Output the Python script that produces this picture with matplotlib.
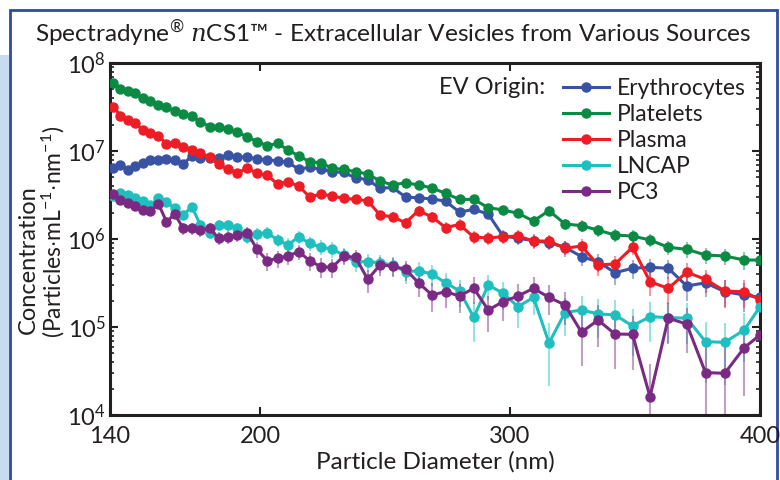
import numpy as np
import matplotlib.pyplot as plt
from matplotlib.patches import Rectangle

plt.rcParams['font.family'] = ['Lato', 'DejaVu Sans']
plt.rcParams['mathtext.fontset'] = 'custom'
plt.rcParams['mathtext.rm'] = 'Lato'
plt.rcParams['mathtext.it'] = 'DejaVu Serif:italic'

# bin centres (nm)
diameter = [141.3, 144.2, 147.1, 150.1, 153.1, 156.2, 159.4, 162.6, 165.9, 169.3,
            172.7, 176.2, 179.8, 183.5, 187.2, 191.0, 194.9, 198.8, 202.9, 207.0,
            211.2, 215.5, 219.9, 224.3, 228.9, 233.5, 238.2, 243.1, 248.0, 253.0,
            258.2, 263.4, 268.8, 274.2, 279.8, 285.5, 291.3, 297.2, 303.2, 309.4,
            315.6, 322.0, 328.6, 335.2, 342.0, 349.0, 356.0, 363.3, 370.7, 378.2,
            385.9, 393.7, 400.0]

erythrocytes = [6.36e6, 6.98e6, 6.13e6, 6.76e6, 7.25e6, 7.90e6, 7.90e6, 8.05e6, 7.90e6, 7.18e6,
                8.71e6, 8.37e6, 8.26e6, 8.37e6, 8.93e6, 8.61e6, 8.48e6, 8.17e6, 7.90e6, 7.76e6,
                7.46e6, 6.19e6, 6.53e6, 6.19e6, 5.82e6, 5.70e6, 4.96e6, 4.72e6, 3.77e6, 3.85e6,
                3.00e6, 2.94e6, 2.85e6, 2.69e6, 2.02e6, 2.17e6, 1.92e6, 1.08e6, 1.02e6, 9.57e5,
                9.08e5, 8.05e5, 6.30e5, 5.52e5, 4.14e5, 4.65e5, 4.77e5, 4.65e5, 2.92e5, 3.18e5,
                2.52e5, 2.31e5, 2.17e5]

platelets = [5.87e7, 5.07e7, 4.84e7, 4.53e7, 3.97e7, 3.73e7, 3.33e7, 3.14e7, 2.85e7, 2.61e7,
             2.50e7, 2.15e7, 1.89e7, 1.86e7, 1.77e7, 1.63e7, 1.45e7, 1.28e7, 1.15e7, 1.22e7,
             1.03e7, 8.77e6, 7.55e6, 7.36e6, 6.36e6, 6.19e6, 5.82e6, 5.48e6, 4.56e6, 4.11e6,
             4.36e6, 4.11e6, 3.80e6, 3.30e6, 2.82e6, 2.82e6, 2.27e6, 2.14e6, 1.96e6, 1.60e6,
             2.10e6, 1.48e6, 1.42e6, 1.26e6, 1.11e6, 1.08e6, 9.75e5, 8.05e5, 7.64e5, 6.58e5,
             6.41e5, 5.77e5, 5.77e5]

plasma = [3.18e7, 2.53e7, 2.23e7, 2.10e7, 1.72e7, 1.61e7, 1.50e7, 1.20e7, 1.24e7, 1.11e7,
          1.04e7, 9.42e6, 8.55e6, 7.03e6, 6.19e6, 5.66e6, 6.36e6, 5.58e6, 5.27e6, 4.22e6,
          4.45e6, 4.00e6, 3.00e6, 3.24e6, 3.08e6, 2.90e6, 2.82e6, 2.72e6, 1.87e6, 1.79e6,
          1.53e6, 2.10e6, 1.78e6, 1.35e6, 1.46e6, 1.05e6, 1.03e6, 1.06e6, 1.08e6, 9.48e5,
          9.48e5, 7.84e5, 8.32e5, 5.07e5, 5.20e5, 8.05e5, 3.27e5, 2.75e5, 4.19e5, 3.48e5,
          2.56e5, 2.52e5, 2.03e5]

lncap = [3.10e6, 3.36e6, 3.16e6, 2.90e6, 2.72e6, 2.43e6, 2.90e6, 2.65e6, 2.23e6, 1.87e6,
         2.33e6, 1.44e6, 1.18e6, 1.44e6, 1.44e6, 1.32e6, 1.06e6, 1.14e6, 1.18e6, 9.75e5,
         8.55e5, 1.06e6, 8.93e5, 8.11e5, 7.64e5, 6.58e5, 5.52e5, 5.52e5, 5.38e5, 5.07e5,
         4.25e5, 4.36e5, 4.00e5, 3.18e5, 2.58e5, 1.29e5, 3.00e5, 2.42e5, 1.70e5, 2.17e5,
         6.58e4, 1.46e5, 1.56e5, 1.41e5, 1.37e5, 1.03e5, 1.31e5, 1.28e5, 1.26e5, 6.81e4,
         6.70e4, 9.25e4, 1.70e5]

pc3 = [3.25e6, 2.77e6, 2.55e6, 2.37e6, 2.14e6, 2.10e6, 2.50e6, 1.57e6, 1.92e6, 1.32e6,
       1.32e6, 1.26e6, 1.32e6, 1.02e6, 1.06e6, 1.11e6, 1.18e6, 7.64e5, 5.66e5, 6.04e5,
       6.41e5, 7.18e5, 5.66e5, 4.84e5, 4.77e5, 6.41e5, 6.19e5, 3.48e5, 5.07e5, 4.93e5,
       4.53e5, 3.18e5, 2.31e5, 2.52e5, 2.25e5, 2.75e5, 1.56e5, 1.94e5, 2.25e5, 2.75e5,
       2.17e5, 1.78e5, 8.71e4, 1.20e5, 8.32e4, 8.26e4, 1.61e4, 1.26e5, 1.08e5, 3.03e4,
       2.98e4, 5.82e4, 8.11e4]

labels = ["Erythrocytes", "Platelets", "Plasma", "LNCAP", "PC3"]
colors = ["#3953a4", "#0a8a43", "#ee1c25", "#1fbfbf", "#7b2a84"]
data = [erythrocytes, platelets, plasma, lncap, pc3]

# counting-statistics style error bars
count_scale = 3e4

fig = plt.figure(figsize=(7.8, 4.8), dpi=100)

# slide frame behind the chart, in its own full-figure axes
bg = fig.add_axes([0, 0, 1, 1], zorder=0)
bg.set_xlim(0, 780)
bg.set_ylim(480, 0)
bg.axis("off")
bg.add_patch(Rectangle((0, 55), 9, 430, facecolor="#c8dcf0", edgecolor="none"))
bg.add_patch(Rectangle((10, 10), 767, 480, facecolor="white",
                       edgecolor="#2f4c9c", linewidth=2))

ax = fig.add_axes([110 / 780, 65 / 480, 650 / 780, 352 / 480], zorder=2)
ax.set_facecolor("white")

x = np.array(diameter)
for lab, vals, col in zip(labels, data, colors):
    v = np.array(vals)
    err = np.sqrt(v * count_scale)
    lower = np.minimum(err, v * 0.9999)
    ax.errorbar(x, v, yerr=[lower, err], fmt="none", ecolor=col, alpha=0.45,
                elinewidth=1.5, capsize=0, zorder=2)
    ax.plot(x, v, "-o", color=col, lw=2.2, ms=6.5, label=lab, zorder=3)

ax.set_yscale("log")
ax.set_xlim(140, 400)
ax.set_ylim(1e4, 1e8)
ax.set_xticks([140, 200, 300, 400])
ax.tick_params(which="both", direction="in", top=True, right=True,
               labelsize=17, colors="#231f20")
ax.tick_params(axis="y", pad=3)
ax.tick_params(axis="x", pad=8)
ax.tick_params(which="major", length=6, width=1.5)
ax.tick_params(which="minor", length=3, width=1.2)
for sp in ax.spines.values():
    sp.set_linewidth(2.2)
    sp.set_color("#231f20")

ax.set_xlabel("Particle Diameter (nm)", fontsize=17.5, color="#231f20", labelpad=3)
fig.text(28 / 780, 1 - 260 / 480, "Concentration", rotation=90, fontsize=17,
         ha="center", va="center", color="#231f20", zorder=5)
fig.text(53 / 780, 1 - 232 / 480, r"(Particles$\cdot$mL$^{-1}$$\cdot$nm$^{-1}$)",
         rotation=90, fontsize=16.5, ha="center", va="center", color="#231f20", zorder=5)

fig.text(0.5 * (35 + 752) / 780, 1 - 33 / 480,
         r"Spectradyne$^{®}$ $\mathit{n}$CS1™ - Extracellular Vesicles from Various Sources",
         fontsize=17.6, ha="center", va="center", color="#231f20", zorder=5)

leg = ax.legend(loc="upper left", bbox_to_anchor=(563 / 780, 1 - 78 / 480),
                bbox_transform=fig.transFigure, frameon=False, fontsize=16.5,
                handlelength=2.0, handletextpad=0.35, labelspacing=0.22,
                borderpad=0, borderaxespad=0)
for t in leg.get_texts():
    t.set_color("#231f20")
ax.text(545 / 780, 1 - 88 / 480, "EV Origin:", fontsize=17, ha="right",
        va="center", color="#231f20", transform=fig.transFigure, zorder=5)

fig.savefig("out.png", dpi=100)
